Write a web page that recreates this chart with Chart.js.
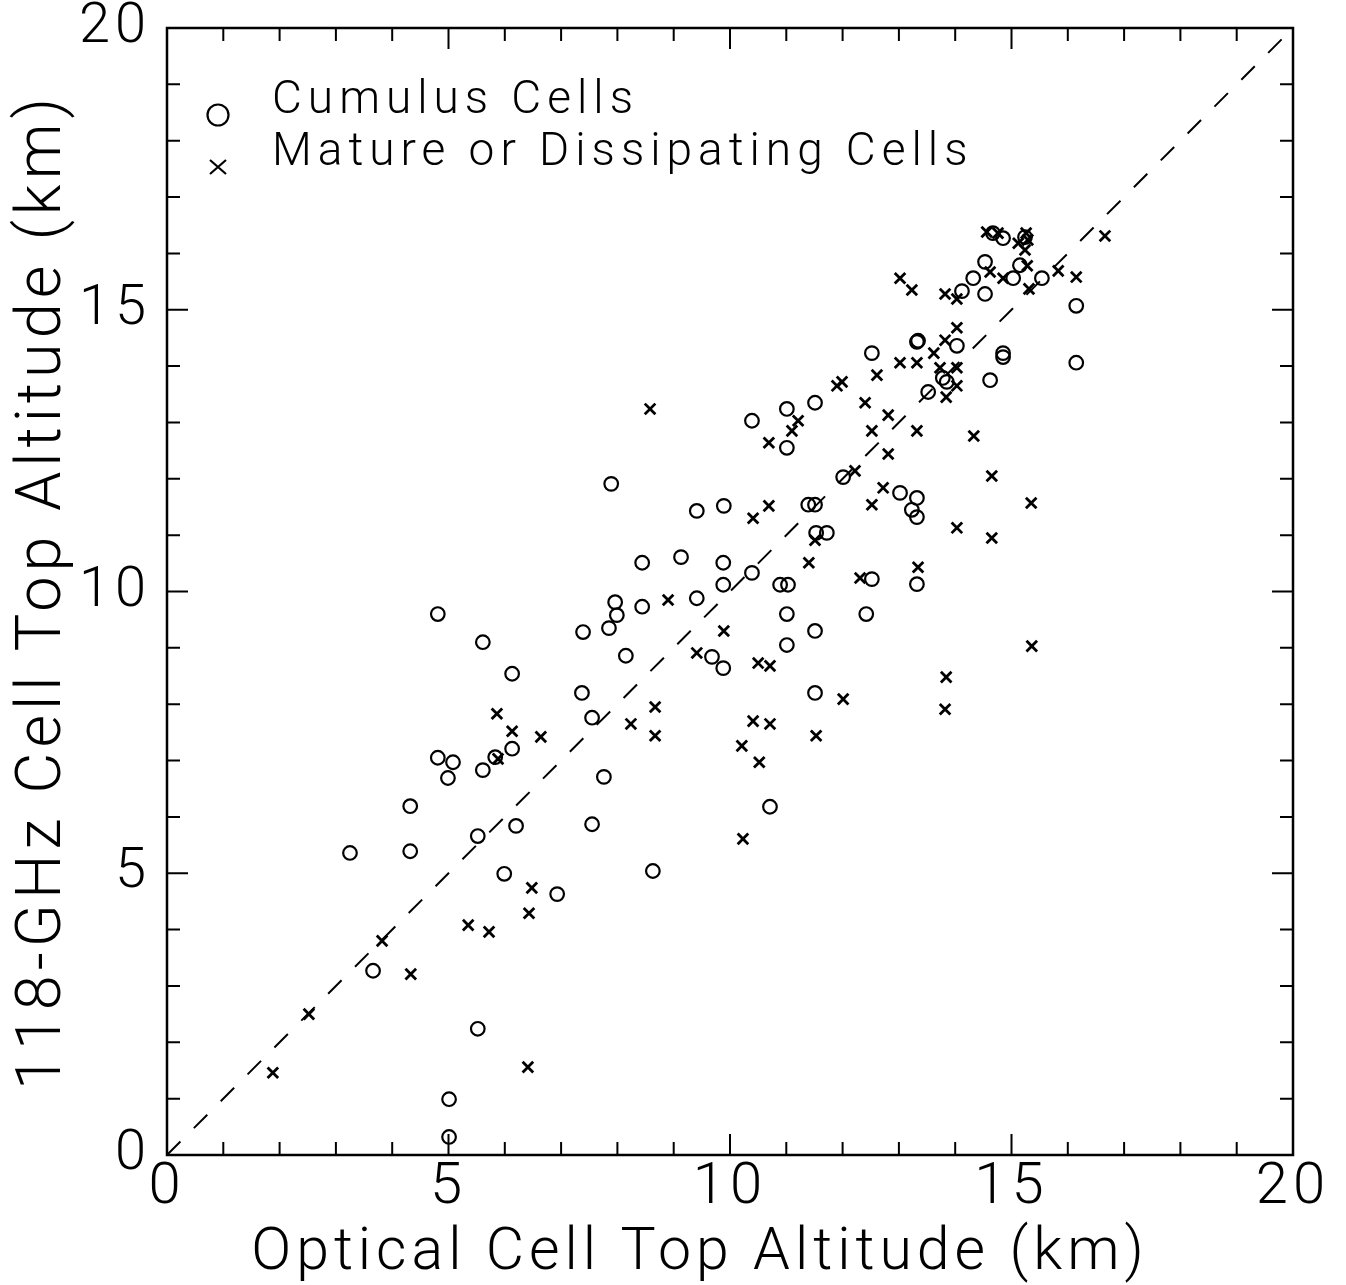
<!DOCTYPE html>
<html>
<head>
<meta charset="utf-8">
<script src="https://cdn.jsdelivr.net/npm/chart.js@4.4.1/dist/chart.umd.min.js"></script>
<style>
  html, body { margin: 0; padding: 0; background: #fff; }
  #wrap { width: 1346px; height: 1285px; position: relative; }
</style>
</head>
<body>
<div id="wrap"><canvas id="c" width="1346" height="1285"></canvas></div>
<script>
// ---------- data ----------
const cumulusLabel = 'Cumulus Cells';
const matureLabel = 'Mature or Dissipating Cells';
const xTitle = 'Optical Cell Top Altitude (km)';
const yTitle = '118-GHz Cell Top Altitude (km)';
const axisMin = 0;
const axisMax = 20;
const majorStep = 5;
const minorStep = 1;
const oneToOneX = [0, 20];
const oneToOneY = [0, 20];

const cumulusX = [5.01,5.01,5.52,3.66,3.25,4.32,4.32,4.81,4.99,5.08,4.81,5.61,5.52,5.61,5.83,6.13,6.13,6.20,5.99,6.93,
  7.37,7.55,7.76,7.55,7.39,7.89,7.85,7.96,7.99,8.15,8.44,8.44,8.63,9.13,9.41,9.41,9.68,9.89,9.88,9.88,
  9.88,10.39,10.39,10.71,11.01,11.01,10.89,11.03,11.01,11.01,11.39,11.51,11.51,11.53,11.72,11.51,11.51,12.01,12.42,12.52,
  12.52,13.02,13.32,13.23,13.32,13.32,13.32,13.34,13.52,13.78,13.85,14.03,14.12,14.32,14.53,14.53,14.62,14.85,14.85,14.85,
  15.03,15.15,15.54,16.15,16.15,14.67,15.24];
const cumulusY = [0.32,0.99,2.24,3.27,5.36,6.19,5.39,7.05,6.69,6.97,9.60,9.10,5.66,6.83,7.06,7.21,8.54,5.84,4.99,4.63,
  8.20,7.76,6.71,5.87,9.28,11.91,9.35,9.81,9.58,8.86,9.73,10.51,5.04,10.61,11.43,9.88,8.84,11.52,10.51,10.12,
  8.64,13.03,10.33,6.18,13.24,12.55,10.12,10.12,9.60,9.05,11.54,11.54,13.35,11.04,11.04,9.30,8.20,12.03,9.60,14.23,
  10.22,11.75,11.66,11.45,11.32,10.13,14.43,14.45,13.54,13.79,13.72,14.36,15.33,15.56,15.85,15.28,13.75,16.27,14.23,14.16,
  15.56,15.79,15.56,15.07,14.06,16.36,16.29];

const matureX = [1.88,2.52,3.82,4.33,5.35,5.72,5.86,6.13,6.41,6.48,6.43,6.64,8.24,8.67,8.67,8.58,8.90,9.41,9.89,10.21,
  10.23,10.41,10.41,10.52,10.50,10.71,10.69,10.69,10.71,11.10,11.21,11.40,11.51,11.53,12.01,11.90,11.99,12.22,12.31,12.40,
  12.52,12.52,12.61,12.72,12.81,12.81,13.02,13.02,13.23,13.32,13.32,13.34,13.84,13.82,13.62,13.73,13.82,13.84,13.82,14.03,
  14.03,14.03,14.03,14.03,14.33,14.65,14.65,14.56,14.76,14.62,14.85,15.12,15.24,15.26,15.28,15.31,15.35,15.36,15.83,16.15,
  16.66,15.29,5.88];
const matureY = [1.46,2.50,3.80,3.21,4.08,3.96,7.83,7.52,1.56,4.74,4.29,7.42,7.65,7.95,7.44,13.24,9.85,8.91,9.30,7.26,
  5.61,11.30,7.70,6.97,8.73,8.68,12.64,11.52,7.65,12.85,13.03,10.51,10.91,7.44,8.09,13.65,13.72,12.14,10.24,13.35,
  12.85,11.54,13.84,11.84,13.13,12.44,14.06,15.56,15.35,14.06,12.85,10.43,8.48,7.91,14.23,13.97,15.28,13.45,14.46,15.19,
  14.68,13.97,13.65,11.13,12.76,12.05,10.95,16.38,16.36,15.67,15.56,16.18,16.06,16.36,15.78,15.37,11.57,9.03,15.69,15.58,
  16.31,16.24,7.03];

// ---------- build ----------
const toPts = (xs, ys) => xs.map((v, i) => ({ x: v, y: ys[i] }));
const FONT = "Roboto, 'Liberation Sans', 'DejaVu Sans', sans-serif";

const spacingPlugin = {
  id: 'spacing',
  beforeDraw(chart) { try { chart.ctx.letterSpacing = '5px'; } catch (e) {} },
  afterDraw(chart) { try { chart.ctx.letterSpacing = '0px'; } catch (e) {} }
};

const frameTicks = {
  id: 'frameTicks',
  afterDatasetsDraw(chart) {
    const { ctx, chartArea: a, scales: { x, y } } = chart;
    ctx.save();
    ctx.strokeStyle = '#000';
    ctx.lineWidth = 2.5;
    ctx.strokeRect(a.left, a.top, a.right - a.left, a.bottom - a.top);
    ctx.lineWidth = 2;
    ctx.beginPath();
    for (let v = axisMin; v <= axisMax; v += minorStep) {
      const L = (v % majorStep === 0) ? 21 : 13;
      const px = x.getPixelForValue(v);
      ctx.moveTo(px, a.bottom); ctx.lineTo(px, a.bottom - L);
      ctx.moveTo(px, a.top); ctx.lineTo(px, a.top + L);
      const py = y.getPixelForValue(v);
      ctx.moveTo(a.left, py); ctx.lineTo(a.left + L, py);
      ctx.moveTo(a.right, py); ctx.lineTo(a.right - L, py);
    }
    ctx.stroke();
    ctx.restore();
  }
};

const legendPlugin = {
  id: 'insideLegend',
  afterDraw(chart) {
    const { ctx } = chart;
    const items = [chart.data.datasets[0], chart.data.datasets[1]];
    const rows = [115, 167];
    ctx.save();
    ctx.fillStyle = '#000';
    ctx.strokeStyle = '#000';
    ctx.font = "300 46px " + FONT;
    ctx.textBaseline = 'alphabetic';
    try { ctx.letterSpacing = '6px'; } catch (e) {}
    items.forEach((ds, i) => {
      const cy = rows[i];
      const cx = 218;
      ctx.lineWidth = 2.2;
      ctx.beginPath();
      if (ds.pointStyle === 'circle') {
        ctx.arc(cx, cy, 10.5, 0, Math.PI * 2);
      } else {
        ctx.moveTo(cx - 8, cy - 7); ctx.lineTo(cx + 8, cy + 7);
        ctx.moveTo(cx - 8, cy + 7); ctx.lineTo(cx + 8, cy - 7);
      }
      ctx.stroke();
      ctx.fillText(ds.label, 272, cy - 2);
    });
    ctx.restore();
  }
};

const chart = new Chart(document.getElementById('c'), {
  type: 'scatter',
  data: {
    datasets: [
      {
        label: cumulusLabel,
        data: toPts(cumulusX, cumulusY),
        pointStyle: 'circle',
        radius: 6.8,
        borderWidth: 2.2,
        borderColor: '#000',
        backgroundColor: 'rgba(0,0,0,0)'
      },
      {
        label: matureLabel,
        data: toPts(matureX, matureY),
        pointStyle: 'crossRot',
        radius: 7.5,
        borderWidth: 2.8,
        borderColor: '#000',
        backgroundColor: '#000'
      },
      {
        type: 'line',
        label: '1:1',
        data: toPts(oneToOneX, oneToOneY),
        borderColor: '#000',
        borderWidth: 2,
        borderDash: [19, 19],
        pointRadius: 0,
        fill: false
      }
    ]
  },
  options: {
    responsive: false,
    animation: false,
    devicePixelRatio: 1,
    layout: { padding: { left: 10, right: 53, top: 28, bottom: 0 } },
    plugins: { legend: { display: false }, tooltip: { enabled: false } },
    scales: {
      x: {
        type: 'linear', min: axisMin, max: axisMax,
        grid: { display: false, drawTicks: false },
        border: { display: false },
        ticks: { stepSize: majorStep, color: '#000', padding: 4,
          font: { family: FONT, size: 58, weight: 300, lineHeight: 1 } },
        title: { display: true, text: xTitle, color: '#000',
          font: { family: FONT, size: 59, weight: 300, lineHeight: 1 },
          padding: { top: 0, bottom: 1 } },
        afterFit(s) { s.height = 130; s.paddingLeft = 0; s.paddingRight = 0; }
      },
      y: {
        type: 'linear', min: axisMin, max: axisMax,
        grid: { display: false, drawTicks: false },
        border: { display: false },
        ticks: { stepSize: majorStep, color: '#000', padding: 16,
          font: { family: FONT, size: 56, weight: 300, lineHeight: 0.2 } },
        title: { display: true, text: yTitle, color: '#000',
          font: { family: FONT, size: 63, weight: 300, lineHeight: 1 },
          padding: { top: 3, bottom: 0 } },
        afterFit(s) { s.width = 157; s.paddingTop = 0; s.paddingBottom = 0; }
      }
    }
  },
  plugins: [spacingPlugin, frameTicks, legendPlugin]
});

// shift the x-axis title slightly left, as in the reference
const xs = chart.scales.x;
const origDrawTitle = xs.drawTitle.bind(xs);
xs.drawTitle = function () {
  this.ctx.save();
  this.ctx.translate(-30, 0);
  origDrawTitle();
  this.ctx.restore();
};
chart.draw();
</script>
</body>
</html>
